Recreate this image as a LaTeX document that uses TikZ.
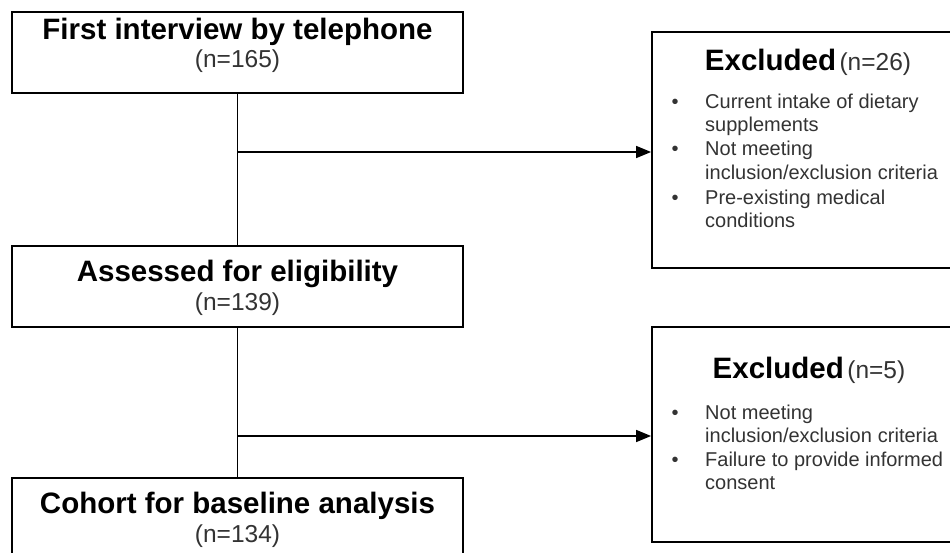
\documentclass[tikz,border=0pt]{standalone}
\usepackage{fontspec}
\setmainfont{Liberation Sans}
\usetikzlibrary{arrows.meta}
\definecolor{txtgray}{HTML}{333333}
\begin{document}
\begin{tikzpicture}[x=1pt,y=-1pt,
  box/.style={draw, line width=1.8pt, inner sep=0pt},
  head/.style={font=\fontsize{29.5}{34}\selectfont\bfseries, inner sep=0pt, anchor=base},
  cnt/.style={font=\fontsize{24.5}{28}\selectfont, text=txtgray, inner sep=0pt, anchor=base},
  itemtxt/.style={font=\fontsize{20}{24}\selectfont, text=txtgray, anchor=mid west, inner sep=0pt},
  bul/.style={font=\fontsize{20}{24}\selectfont, text=txtgray, anchor=mid, inner sep=0pt},
  conn/.style={line width=1.6pt},
  arr/.style={conn, -{Triangle[length=15pt,width=12pt]}}]
\clip (0,0) rectangle (950,553);
\fill[white] (0,0) rectangle (950,553);
% main column boxes
\node[box, minimum width=451pt, minimum height=81pt] (b1) at (237.5,52.5) {};
\node[box, minimum width=451pt, minimum height=81pt] (b2) at (237.5,286.5) {};
\node[box, minimum width=451pt, minimum height=100pt] (b3) at (237.5,528) {};
% exclusion boxes
\node[box, minimum width=312pt, minimum height=236pt] (bA) at (808,150) {};
\node[box, minimum width=312pt, minimum height=215pt] (bB) at (808,434.5) {};
% texts main column
\node[head] (t1) at (237.5,40) {First interview by telephone};
\node[cnt] (n1) at (237.5,68) {(n=165)};
\node[head] (t2) at (237.5,281) {Assessed for eligibility};
\node[cnt] (n2) at (237.5,310) {(n=139)};
\node[head] (t3) at (237.5,513) {Cohort for baseline analysis};
\node[cnt] (n3) at (237.5,542) {(n=134)};
% exclusion A
\node[inner sep=0pt] (hA) at (808,62) {{\fontsize{29.5}{34}\selectfont\bfseries Excluded}\hspace{0.35em}{\fontsize{24.5}{28}\selectfont\color{txtgray}(n=26)}};
\node[bul] (a1b) at (675,106) {•};
\node[itemtxt] (a1) at (705,106) {Current intake of dietary};
\node[itemtxt] (a1c) at (705,129) {supplements};
\node[bul] (a2b) at (675,153) {•};
\node[itemtxt] (a2) at (705,153) {Not meeting};
\node[itemtxt] (a2c) at (705,177) {inclusion/exclusion\hspace{0.3em}criteria};
\node[bul] (a3b) at (675,202) {•};
\node[itemtxt] (a3) at (705,202) {Pre-existing medical};
\node[itemtxt] (a3c) at (705,225) {conditions};
% exclusion B
\node[inner sep=0pt] (hB) at (809,370) {{\fontsize{29.5}{34}\selectfont\bfseries Excluded}\hspace{0.35em}{\fontsize{24.5}{28}\selectfont\color{txtgray}(n=5)}};
\node[bul] (c1b) at (675,417) {•};
\node[itemtxt] (c1) at (705,417) {Not meeting};
\node[itemtxt] (c1c) at (705,440) {inclusion/exclusion\hspace{0.3em}criteria};
\node[bul] (c2b) at (675,464) {•};
\node[itemtxt] (c2) at (705,464) {Failure to provide informed};
\node[itemtxt] (c2c) at (705,487) {consent};
% connectors
\coordinate (j1) at (237.5,152);
\coordinate (j2) at (237.5,436);
\draw[conn] (b1.south) -- (b2.north);
\draw[conn] (b2.south) -- (b3.north);
\draw[arr] (j1) -- (j1 -| bA.west);
\draw[arr] (j2) -- (j2 -| bB.west);
\end{tikzpicture}
\end{document}
